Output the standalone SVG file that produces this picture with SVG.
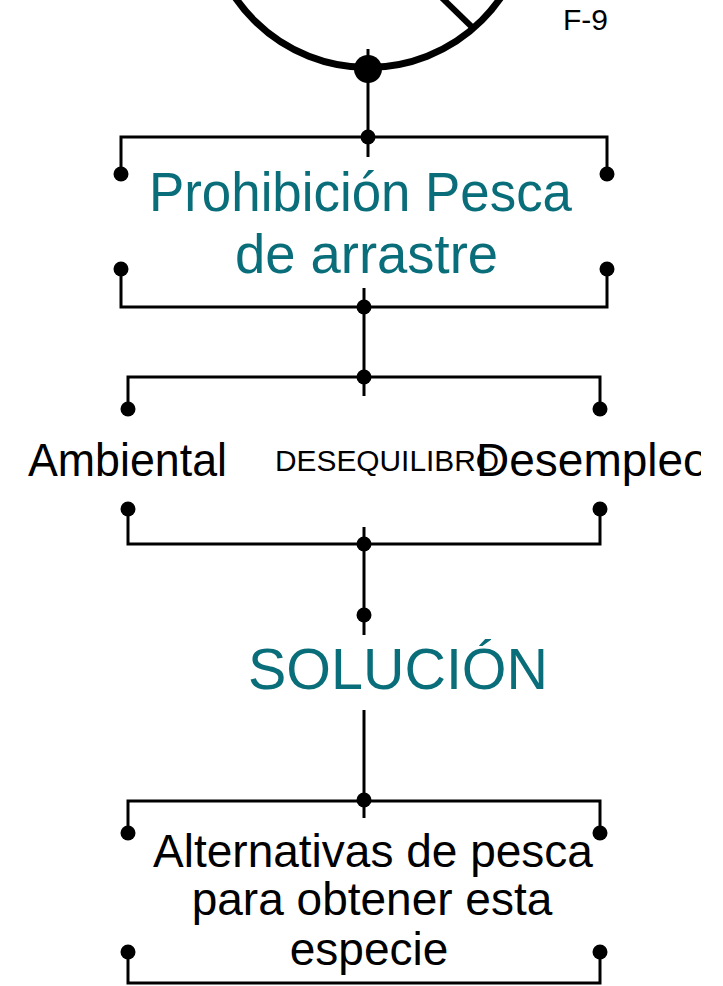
<svg xmlns="http://www.w3.org/2000/svg" width="723" height="986" viewBox="0 0 723 986">
<style>
.ln{stroke:#000;stroke-width:3;fill:none}
.dot{fill:#000}
.teal{fill:#0a6e7a;font-family:"Liberation Sans",Arial,sans-serif}
.blk{fill:#000;font-family:"Liberation Sans",Arial,sans-serif}
</style>
<defs>
<clipPath id="clipR"><rect x="0" y="0" width="701" height="986"/></clipPath>
</defs>
<rect width="723" height="986" fill="#fff"/>
<g id="symbol">
<circle cx="368" cy="-93.4" r="160.9" fill="none" stroke="#000" stroke-width="7"/>
<line x1="438" y1="-6" x2="474" y2="29" stroke="#000" stroke-width="6"/>
<circle cx="368" cy="69" r="14" class="dot"/>
<text x="563" y="30" class="blk" font-size="30">F-9</text>
</g>
<g id="connectors">
<line x1="368" y1="49" x2="368" y2="157" class="ln"/>
<line x1="364" y1="288" x2="364" y2="396" class="ln"/>
<line x1="364" y1="527" x2="364" y2="635" class="ln"/>
<line x1="364" y1="710" x2="364" y2="818" class="ln"/>
<circle cx="364" cy="615" r="7.5" class="dot"/>
</g>
<g id="prohibicion">
<path d="M121 173V137H607V173M121 269V307H607V269" class="ln"/>
<circle cx="368" cy="137" r="7.5" class="dot"/>
<circle cx="121" cy="174" r="7.5" class="dot"/>
<circle cx="607" cy="174" r="7.5" class="dot"/>
<circle cx="121" cy="269" r="7.5" class="dot"/>
<circle cx="607" cy="269" r="7.5" class="dot"/>
<circle cx="364" cy="307" r="7.5" class="dot"/>
<text x="149" y="211" class="teal" font-size="56" textLength="423" lengthAdjust="spacingAndGlyphs">Prohibición Pesca</text>
<text x="235" y="273" class="teal" font-size="56" textLength="263" lengthAdjust="spacingAndGlyphs">de arrastre</text>
</g>
<g id="desequilibrio">
<path d="M128 409V377H600V409M128 509V544H600V509" class="ln"/>
<circle cx="364" cy="377" r="7.5" class="dot"/>
<circle cx="128" cy="409" r="7.5" class="dot"/>
<circle cx="600" cy="409" r="7.5" class="dot"/>
<circle cx="128" cy="509" r="7.5" class="dot"/>
<circle cx="600" cy="509" r="7.5" class="dot"/>
<circle cx="364" cy="544" r="7.5" class="dot"/>
<text x="28" y="476" class="blk" font-size="46" textLength="199" lengthAdjust="spacingAndGlyphs">Ambiental</text>
<text x="275" y="471" class="blk" font-size="29" textLength="224" lengthAdjust="spacingAndGlyphs">DESEQUILIBRO</text>
<text x="476" y="476" class="blk" font-size="46" clip-path="url(#clipR)">Desempleo</text>
</g>
<g id="solucion">
<text x="248" y="689" class="teal" font-size="58" textLength="300" lengthAdjust="spacingAndGlyphs">SOLUCIÓN</text>
</g>
<g id="alternativas">
<path d="M128 833V801H600V833M128 952V983H600V952" class="ln"/>
<circle cx="364" cy="800" r="7.5" class="dot"/>
<circle cx="128" cy="833" r="7.5" class="dot"/>
<circle cx="600" cy="833" r="7.5" class="dot"/>
<circle cx="128" cy="952" r="7.5" class="dot"/>
<circle cx="600" cy="952" r="7.5" class="dot"/>
<text x="373" y="867" class="blk" font-size="46" text-anchor="middle">Alternativas de pesca</text>
<text x="372" y="915" class="blk" font-size="46" text-anchor="middle">para obtener esta</text>
<text x="369" y="965" class="blk" font-size="46" text-anchor="middle">especie</text>
</g>
</svg>
